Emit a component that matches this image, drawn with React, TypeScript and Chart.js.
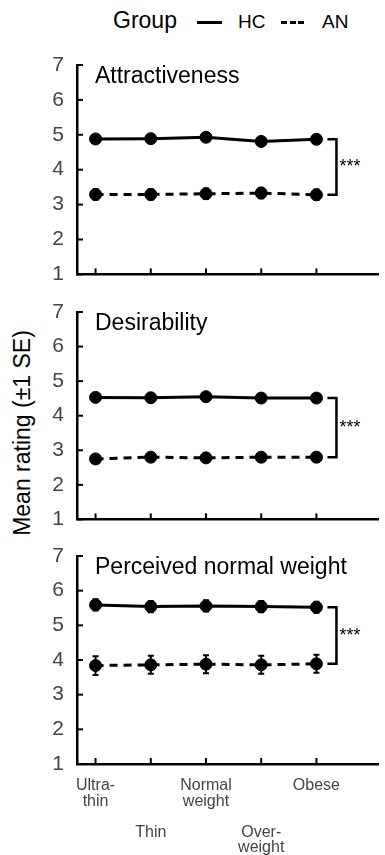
import React, { useEffect, useRef } from "react";
import { Chart, registerables } from "chart.js";

Chart.register(...registerables);

const FONT = "'Liberation Sans', Arial, Helvetica, sans-serif";

// ---- data ----
const categories = ["Ultra-thin", "Thin", "Normal weight", "Overweight", "Obese"];
const xTickLabels: string[][] = [
  ["Ultra-", "thin"],
  ["", "", "", "Thin"],
  ["Normal", "weight"],
  ["", "", "", "Over-", "weight"],
  ["Obese"],
];
const groups = ["HC", "AN"];
const panelTitles = ["Attractiveness", "Desirability", "Perceived normal weight"];
const yTickValues = [1, 2, 3, 4, 5, 6, 7];
const significance = ["***", "***", "***"];

const attractivenessHC = [4.88, 4.89, 4.93, 4.81, 4.87];
const attractivenessAN = [3.29, 3.29, 3.31, 3.33, 3.28];
const attractivenessHCse = [0.08, 0.08, 0.08, 0.08, 0.08];
const attractivenessANse = [0.15, 0.15, 0.15, 0.15, 0.15];

const desirabilityHC = [4.53, 4.52, 4.55, 4.51, 4.51];
const desirabilityAN = [2.75, 2.8, 2.78, 2.8, 2.8];
const desirabilityHCse = [0.08, 0.08, 0.08, 0.08, 0.08];
const desirabilityANse = [0.09, 0.09, 0.09, 0.09, 0.09];

const normalWeightHC = [5.59, 5.54, 5.56, 5.54, 5.52];
const normalWeightAN = [3.84, 3.86, 3.88, 3.86, 3.89];
const normalWeightHCse = [0.16, 0.16, 0.16, 0.16, 0.16];
const normalWeightANse = [0.27, 0.26, 0.26, 0.26, 0.26];

type PanelProps = {
  title: string;
  hc: number[];
  an: number[];
  hcSE: number[];
  anSE: number[];
  sig: string;
  top: number;
  height: number;
  showX: boolean;
};

function Panel({ title, hc, an, hcSE, anSE, sig, top, height, showX }: PanelProps) {
  const ref = useRef<HTMLCanvasElement | null>(null);

  useEffect(() => {
    if (!ref.current) return;
    const xs = categories.map((_, i) => i + 1);
    const decor = {
      id: "decor",
      beforeDatasetsDraw(chart: any) {
        const { ctx, scales } = chart;
        const x = scales.x;
        const y = scales.y;
        ctx.save();
        ctx.strokeStyle = "#000";
        ctx.lineWidth = 2;
        const series = [
          { v: hc, se: hcSE },
          { v: an, se: anSE },
        ];
        series.forEach((s) => {
          s.v.forEach((val, i) => {
            const px = x.getPixelForValue(i + 1);
            const t = y.getPixelForValue(val + s.se[i]);
            const b = y.getPixelForValue(val - s.se[i]);
            ctx.beginPath();
            ctx.moveTo(px, t);
            ctx.lineTo(px, b);
            ctx.moveTo(px - 3, t);
            ctx.lineTo(px + 3, t);
            ctx.moveTo(px - 3, b);
            ctx.lineTo(px + 3, b);
            ctx.stroke();
          });
        });
        ctx.restore();
      },
      afterDraw(chart: any) {
        const { ctx, chartArea, scales } = chart;
        const x = scales.x;
        const y = scales.y;
        ctx.save();
        ctx.strokeStyle = "#000";
        ctx.lineWidth = 2;
        // inward ticks
        yTickValues.forEach((v) => {
          const py = y.getPixelForValue(v);
          ctx.beginPath();
          ctx.moveTo(chartArea.left, py);
          ctx.lineTo(chartArea.left + 6, py);
          ctx.stroke();
        });
        xs.forEach((v) => {
          const px = x.getPixelForValue(v);
          ctx.beginPath();
          ctx.moveTo(px, chartArea.bottom);
          ctx.lineTo(px, chartArea.bottom - 6);
          ctx.stroke();
        });
        // title
        ctx.fillStyle = "#000";
        ctx.font = `23px ${FONT}`;
        ctx.textAlign = "left";
        ctx.textBaseline = "alphabetic";
        ctx.fillText(title, chartArea.left + 18, chartArea.top + 18);
        // bracket
        const last = hc.length - 1;
        const lx = x.getPixelForValue(last + 1);
        const yT = y.getPixelForValue(hc[last]);
        const yB = y.getPixelForValue(an[last]);
        const x0 = lx + 11;
        const x1 = lx + 20;
        ctx.lineWidth = 2.5;
        ctx.beginPath();
        ctx.moveTo(x0, yT);
        ctx.lineTo(x1, yT);
        ctx.lineTo(x1, yB);
        ctx.lineTo(x0, yB);
        ctx.stroke();
        ctx.font = `18px ${FONT}`;
        ctx.textBaseline = "middle";
        ctx.fillText(sig, x1 + 3, (yT + yB) / 2);
        ctx.restore();
      },
    };

    const chart = new Chart(ref.current, {
      type: "line",
      data: {
        datasets: [
          {
            label: groups[0],
            data: xs.map((xv, i) => ({ x: xv, y: hc[i] })),
            borderColor: "#000",
            backgroundColor: "#000",
            borderWidth: 3,
            pointRadius: 6,
            pointBorderWidth: 1,
            pointBackgroundColor: "#000",
            pointBorderColor: "#000",
            tension: 0,
            clip: false as any,
          },
          {
            label: groups[1],
            data: xs.map((xv, i) => ({ x: xv, y: an[i] })),
            borderColor: "#000",
            backgroundColor: "#000",
            borderWidth: 3,
            borderDash: [8, 6],
            pointRadius: 6,
            pointBorderWidth: 1,
            pointBackgroundColor: "#000",
            pointBorderColor: "#000",
            tension: 0,
            clip: false as any,
          },
        ],
      },
      options: {
        animation: false,
        responsive: false,
        maintainAspectRatio: false,
        events: [],
        layout: { padding: { top: 25, right: 0, bottom: 0, left: 0 } },
        plugins: {
          legend: { display: false },
          tooltip: { enabled: false },
          title: { display: false },
        },
        scales: {
          x: {
            type: "linear",
            min: 0.664,
            max: 6.115,
            afterBuildTicks: (s: any) => {
              s.ticks = xs.map((v) => ({ value: v }));
            },
            afterFit: (s: any) => {
              s.height = showX ? 91 : 14;
            },
            grid: { display: false },
            border: { display: true, color: "#000", width: 2.5 },
            ticks: {
              display: showX,
              autoSkip: false,
              maxRotation: 0,
              minRotation: 0,
              padding: 6,
              color: "#444",
              font: { family: FONT, size: 16, lineHeight: 0.97 },
              callback: (v: any) => xTickLabels[Number(v) - 1] ?? "",
            },
          },
          y: {
            type: "linear",
            min: 1,
            max: 7,
            afterBuildTicks: (s: any) => {
              s.ticks = yTickValues.map((v) => ({ value: v }));
            },
            afterFit: (s: any) => {
              s.width = 77;
            },
            grid: { display: false },
            border: { display: true, color: "#000", width: 2.5 },
            ticks: {
              padding: 5,
              color: "#444",
              font: { family: FONT, size: 21 },
            },
          },
        },
      },
      plugins: [decor],
    } as any);
    return () => chart.destroy();
  }, []);

  return (
    <canvas
      ref={ref}
      width={385}
      height={height}
      style={{ position: "absolute", left: 0, top, width: 385, height, display: "block" }}
    />
  );
}

export default function App() {
  return (
    <div
      style={{
        position: "absolute",
        left: 0,
        top: 0,
        width: 385,
        height: 855,
        overflow: "hidden",
        background: "#fff",
        fontFamily: FONT,
        color: "#000",
      }}
    >
      {/* legend */}
      <div style={{ position: "absolute", left: 113, top: 9, fontSize: 23, lineHeight: "23px", whiteSpace: "nowrap" }}>Group</div>
      <div style={{ position: "absolute", left: 197, top: 21, width: 25, height: 3, background: "#000" }} />
      <div style={{ position: "absolute", left: 238, top: 12, fontSize: 19, lineHeight: "19px" }}>{groups[0]}</div>
      <div style={{ position: "absolute", left: 281, top: 21, width: 6, height: 3, background: "#000" }} />
      <div style={{ position: "absolute", left: 289.5, top: 21, width: 6, height: 3, background: "#000" }} />
      <div style={{ position: "absolute", left: 298, top: 21, width: 6, height: 3, background: "#000" }} />
      <div style={{ position: "absolute", left: 322, top: 12, fontSize: 19, lineHeight: "19px" }}>{groups[1]}</div>

      {/* y axis title */}
      <div
        style={{
          position: "absolute",
          left: 22,
          top: 433,
          fontSize: 23,
          lineHeight: "23px",
          whiteSpace: "nowrap",
          transform: "translate(-50%, -50%) rotate(-90deg)",
        }}
      >
        Mean rating (±1 SE)
      </div>

      <Panel title={panelTitles[0]} hc={attractivenessHC} an={attractivenessAN} hcSE={attractivenessHCse} anSE={attractivenessANse} sig={significance[0]} top={40} height={252} showX={false} />
      <Panel title={panelTitles[1]} hc={desirabilityHC} an={desirabilityAN} hcSE={desirabilityHCse} anSE={desirabilityANse} sig={significance[1]} top={287} height={250} showX={false} />
      <Panel title={panelTitles[2]} hc={normalWeightHC} an={normalWeightAN} hcSE={normalWeightHCse} anSE={normalWeightANse} sig={significance[2]} top={531} height={324} showX={true} />
    </div>
  );
}
